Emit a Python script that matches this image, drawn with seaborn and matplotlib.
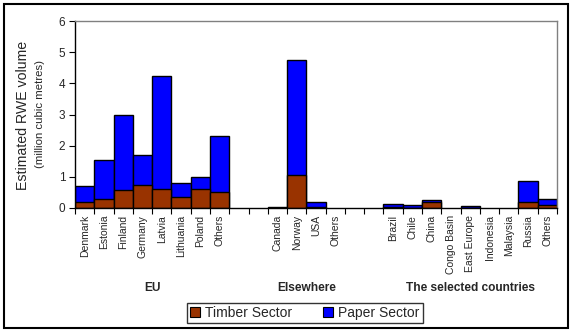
import matplotlib
matplotlib.use("Agg")
import matplotlib.pyplot as plt
import matplotlib.patches as mpatches
import matplotlib.transforms as mtransforms
import seaborn as sns
import pandas as pd
import numpy as np

# ---- data ----
slots = ["Denmark", "Estonia", "Finland", "Germany", "Latvia", "Lithuania", "Poland", "EU Others",
         "gap1", "gap2",
         "Canada", "Norway", "USA", "Else Others",
         "gap3", "gap4",
         "Brazil", "Chile", "China", "Congo Basin", "East Europe", "Indonesia", "Malaysia", "Russia", "Sel Others"]
tick_labels = ["Denmark", "Estonia", "Finland", "Germany", "Latvia", "Lithuania", "Poland", "Others",
               "", "",
               "Canada", "Norway", "USA", "Others",
               "", "",
               "Brazil", "Chile", "China", "Congo Basin", "East Europe", "Indonesia", "Malaysia", "Russia", "Others"]
countries = [s for s in slots if not s.startswith("gap")]
timber = [0.19, 0.28, 0.57, 0.73, 0.60, 0.34, 0.60, 0.51,
          0.00, 1.06, 0.03, 0.00,
          0.02, 0.01, 0.20, 0.00, 0.01, 0.00, 0.00, 0.20, 0.10]
paper = [0.50, 1.26, 2.41, 0.97, 3.63, 0.46, 0.39, 1.80,
         0.03, 3.68, 0.17, 0.00,
         0.12, 0.09, 0.07, 0.00, 0.06, 0.00, 0.00, 0.68, 0.20]
groups = ["EU", "Elsewhere", "The selected countries"]
group_centers = [3.5, 11.5, 20.0]
series_names = ["Timber Sector", "Paper Sector"]
y_ticks = [0, 1, 2, 3, 4, 5, 6]

df = pd.DataFrame({"slot": countries, "timber": timber, "paper": paper})
df["total"] = df["timber"] + df["paper"]

TIMBER_C = "#993300"
PAPER_C = "#0000FF"

sns.set_style("white")
plt.rcParams["font.family"] = ["Liberation Sans", "DejaVu Sans"]

fig = plt.figure(figsize=(5.77, 3.32), dpi=100)
ax = fig.add_axes([75/577, 1-208/332, (557-75)/577, (208-21)/332])

sns.barplot(data=df, x="slot", y="total", order=slots, color=PAPER_C, width=1.0,
            edgecolor="black", linewidth=1.0, saturation=1, ax=ax)
sns.barplot(data=df, x="slot", y="timber", order=slots, color=TIMBER_C, width=1.0,
            edgecolor="black", linewidth=1.0, saturation=1, ax=ax)
# remove zero-height bars' visible edges
for p in ax.patches:
    if p.get_height() == 0 or np.isnan(p.get_height()):
        p.set_visible(False)

ax.set_xlim(-0.5, len(slots) - 0.5)
ax.set_ylim(0, 6)
ax.set_yticks(y_ticks)
ax.set_yticklabels([str(t) for t in y_ticks], fontsize=8.5)
ax.set_xticks(range(len(slots)))
ax.set_xticklabels(tick_labels, rotation=90, fontsize=7.5)
ax.tick_params(axis="x", which="major", length=0, pad=5)
ax.set_xticks(np.arange(-0.5, len(slots), 1.0), minor=True)
ax.tick_params(axis="x", which="minor", length=4, width=0.8, color="black", direction="out", bottom=True)
ax.tick_params(axis="y", length=4, width=0.8, color="black", direction="out", left=True, pad=3)
ax.set_xlabel("")
ax.set_ylabel("")

for side in ["left", "bottom"]:
    ax.spines[side].set_color("black")
    ax.spines[side].set_linewidth(1.0)
for side in ["top", "right"]:
    ax.spines[side].set_color("#808080")
    ax.spines[side].set_linewidth(1.0)
    ax.spines[side].set_visible(True)

# y-axis label (two lines, different sizes)
fig.text(23/577, 1-115/332, "Estimated RWE volume", rotation=90, ha="center", va="center", fontsize=10.2)
fig.text(40/577, 1-114/332, "(million cubic metres)", rotation=90, ha="center", va="center", fontsize=8.2)

# group labels
trans = mtransforms.blended_transform_factory(ax.transData, fig.transFigure)
for g, c in zip(groups, group_centers):
    ax.text(c, 1-288/332, g, transform=trans, ha="center", va="center", fontsize=8.6, fontweight="bold")

# legend
handles = [mpatches.Patch(facecolor=TIMBER_C, edgecolor="black", linewidth=0.8),
           mpatches.Patch(facecolor=PAPER_C, edgecolor="black", linewidth=0.8)]
leg = fig.legend(handles, series_names, loc="center", bbox_to_anchor=(305/577, 1-313/332), ncol=2,
                 fontsize=10, frameon=True, fancybox=False, handlelength=0.7, handleheight=0.7,
                 handletextpad=0.4, columnspacing=2.2, borderpad=0.25, borderaxespad=0)
leg.get_frame().set_edgecolor("black")
leg.get_frame().set_linewidth(1.0)

# outer border
fig.patches.append(mpatches.Rectangle((4/577, 4/332), 564/577, 324/332, transform=fig.transFigure,
                                      fill=False, edgecolor="black", linewidth=1.5))

fig.savefig("out.png", dpi=100)
